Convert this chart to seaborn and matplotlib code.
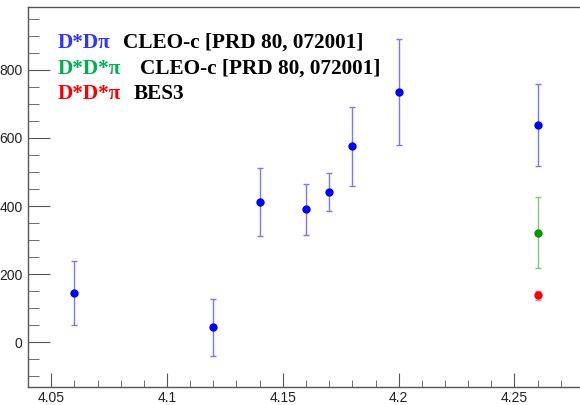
import numpy as np
import pandas as pd
import matplotlib
matplotlib.use('Agg')
import matplotlib.pyplot as plt
import seaborn as sns
from matplotlib.ticker import MultipleLocator

energy_dsdpi = [4.06, 4.12, 4.14, 4.16, 4.17, 4.18, 4.20, 4.26]
xsec_dsdpi = [144, 44, 412, 390, 441, 575, 735, 638]
err_dsdpi = [95, 84, 100, 76, 56, 116, 156, 120]

energy_dsdspi_cleo = [4.26]
xsec_dsdspi_cleo = [322]
err_dsdspi_cleo = [104]

energy_dsdspi_bes = [4.26]
xsec_dsdspi_bes = [137]
err_dsdspi_bes = [14]

legend_labels = ['D*D\u03c0', 'D*D*\u03c0', 'D*D*\u03c0']
legend_notes = ['CLEO-c [PRD 80, 072001]', 'CLEO-c [PRD 80, 072001]', 'BES3']

sns.set_style('ticks')
plt.rcParams['font.family'] = ['Liberation Sans', 'DejaVu Sans']

W, H = 580, 405
fig = plt.figure(figsize=(W / 100, H / 100), dpi=100)
left, right, top, bottom = 28, 584, 7, 387
ax = fig.add_axes([left / W, 1 - bottom / H, (right - left) / W, (bottom - top) / H])

series = [
    (energy_dsdpi, xsec_dsdpi, err_dsdpi, '#0000ff', '#7777ff'),
    (energy_dsdspi_cleo, xsec_dsdspi_cleo, err_dsdspi_cleo, '#009900', '#80c880'),
    (energy_dsdspi_bes, xsec_dsdspi_bes, err_dsdspi_bes, '#ff0000', '#ff8080'),
]
for xs, ys, es, col, ecol in series:
    ax.errorbar(xs, ys, yerr=es, fmt='none', ecolor=ecol, elinewidth=1.0,
                capsize=2, capthick=1.0, zorder=2)
    df = pd.DataFrame({'E': xs, 'sigma': ys})
    sns.scatterplot(data=df, x='E', y='sigma', color=col, s=36, edgecolor=col,
                    linewidth=0, ax=ax, zorder=3)

ax.set_xlim(4.04, 4.28)
ax.set_ylim(-132, 985)
ax.set_xlabel('')
ax.set_ylabel('')

ax.xaxis.set_major_locator(MultipleLocator(0.05))
ax.xaxis.set_minor_locator(MultipleLocator(0.01))
ax.yaxis.set_major_locator(MultipleLocator(200))
ax.yaxis.set_minor_locator(MultipleLocator(50))
ax.set_xticks([4.05, 4.1, 4.15, 4.2, 4.25])
ax.set_xticklabels(['4.05', '4.1', '4.15', '4.2', '4.25'])
ax.set_yticks([0, 200, 400, 600, 800])
ax.set_yticklabels(['0', '200', '400', '600', '800'])

ax.tick_params(axis='both', which='both', direction='in', colors='#555555',
               labelcolor='#222222', labelsize=10)
ax.tick_params(axis='y', which='major', length=16, pad=4)
ax.tick_params(axis='y', which='minor', length=8)
ax.tick_params(axis='x', which='major', length=10, pad=3)
ax.tick_params(axis='x', which='minor', length=5)
ax.tick_params(top=False, right=False, which='both')
for side in ['left', 'bottom', 'top', 'right']:
    ax.spines[side].set_color('#555555')
    ax.spines[side].set_linewidth(1.0)

label_colors = ['#3333ff', '#00b050', '#ff0000']
label_y = [43, 69, 94]
note_x = [123, 140, 134]
for lab, note, c, yy, nx in zip(legend_labels, legend_notes, label_colors, label_y, note_x):
    fig.text(58 / W, 1 - yy / H, lab, color=c, fontsize=15.3, fontweight='bold',
             family=['Liberation Serif', 'DejaVu Serif'], va='center', ha='left')
    fig.text(nx / W, 1 - yy / H, note, color='black', fontsize=15.3, fontweight='bold',
             family=['Liberation Serif', 'DejaVu Serif'], va='center', ha='left')

fig.savefig('out.png', dpi=100)
